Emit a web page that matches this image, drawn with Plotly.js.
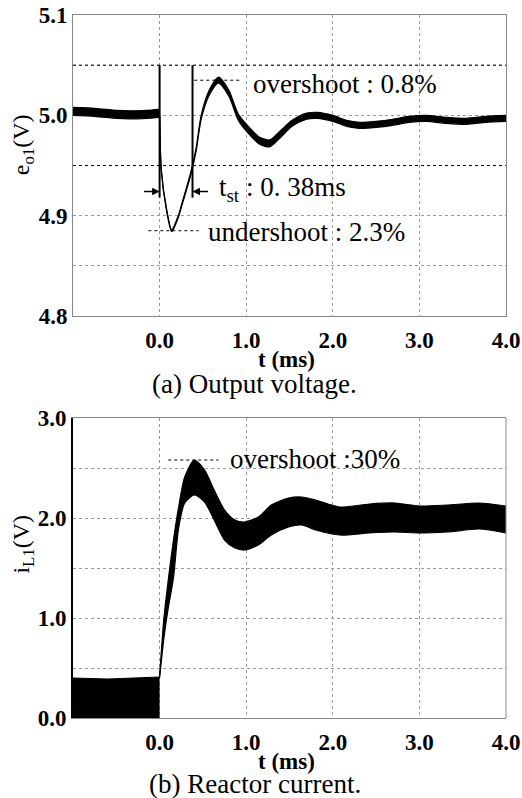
<!DOCTYPE html>
<html><head><meta charset="utf-8">
<script src="https://cdn.plot.ly/plotly-3.0.1.min.js"></script>
<style>html,body{margin:0;padding:0;background:#fff;}#chart{width:522px;height:798px;}</style>
</head><body><div id="chart"></div>
<script>
// ---- (a) output voltage e_o1 : time (ms), band centre (V), ripple p-p (V)
// before the load step
const tVPre      = [-1.0, -0.75, -0.5, -0.35, -0.15, 0.0];
const vCenterPre = [5.004, 5.003, 5.001, 5.0005, 5.001, 5.002];
const vRipplePre = [0.008, 0.008, 0.008, 0.008, 0.008, 0.008];
// after the load step
const tV      = [0.0, 0.02, 0.08, 0.14, 0.22, 0.25, 0.36, 0.42, 0.48, 0.57, 0.68, 0.80, 0.91, 1.03, 1.15, 1.27, 1.38, 1.53, 1.69, 1.82, 2.00, 2.16, 2.31, 2.50, 2.69, 2.88, 3.08, 3.31, 3.54, 3.77, 4.00];
const vCenter = [5.000, 4.945, 4.906, 4.885, 4.900, 4.909, 4.942, 4.965, 4.998, 5.022, 5.035, 5.022, 4.998, 4.985, 4.975, 4.972, 4.980, 4.992, 4.999, 5.000, 4.997, 4.992, 4.990, 4.991, 4.993, 4.996, 4.997, 4.995, 4.994, 4.996, 4.997];
const vRipple = [0.002, 0.002, 0.002, 0.002, 0.002, 0.002, 0.003, 0.003, 0.004, 0.005, 0.006, 0.006, 0.006, 0.007, 0.007, 0.007, 0.007, 0.006, 0.006, 0.006, 0.006, 0.006, 0.006, 0.006, 0.006, 0.006, 0.006, 0.006, 0.006, 0.006, 0.006];

// ---- (b) reactor current i_L1 : time (ms), upper / lower envelope (A)
const tIPre   = [-1.0, -0.6, -0.3, 0.0];
const iMaxPre = [0.40, 0.39, 0.40, 0.41];
const iMinPre = [0.00, 0.00, 0.00, 0.00];
const tI   = [0.0, 0.05, 0.10, 0.16, 0.22, 0.29, 0.40, 0.52, 0.63, 0.75, 0.87, 0.98, 1.14, 1.29, 1.49, 1.64, 1.80, 2.08, 2.42, 2.72, 3.00, 3.32, 3.69, 4.00];
const iMax = [0.42, 1.00, 1.38, 1.78, 2.11, 2.41, 2.58, 2.48, 2.28, 2.08, 1.98, 1.96, 2.01, 2.13, 2.20, 2.21, 2.18, 2.11, 2.14, 2.15, 2.12, 2.13, 2.15, 2.12];
const iMin = [0.40, 0.80, 1.10, 1.40, 1.90, 2.15, 2.23, 2.16, 1.98, 1.78, 1.70, 1.68, 1.73, 1.83, 1.91, 1.93, 1.88, 1.83, 1.85, 1.86, 1.85, 1.86, 1.89, 1.85];

// ---- ticks
const xTickVals = [0, 1, 2, 3, 4];
const xTickText = ['0.0', '1.0', '2.0', '3.0', '4.0'];
const vTickVals = [4.8, 4.85, 4.9, 4.95, 5.0, 5.05, 5.1];
const vTickText = ['4.8', '', '4.9', '', '5.0', '', '5.1'];
const iTickVals = [0, 0.5, 1, 1.5, 2, 2.5, 3];
const iTickText = ['0.0', '', '1.0', '', '2.0', '', '3.0'];

// ---- annotation values
const vBand = [5.05, 4.95];
const settle = [0.0, 0.38];
const vOver = 5.035, vUnder = 4.885, iOver = 2.58;

const SERIF = 'Liberation Serif, Times New Roman, Times, serif';
const lo = (c, r) => c.map((v, k) => v - r[k] / 2);
const hi = (c, r) => c.map((v, k) => v + r[k] / 2);

const lineLin = {color: '#000', width: 1.2};
const lineSp = {color: '#000', width: 1.2, shape: 'spline', smoothing: 0.7};
function band(x, yLo, yHi, ln, xa, ya) {
  return [
    {x: x, y: yLo, mode: 'lines', line: ln, xaxis: xa, yaxis: ya, hoverinfo: 'skip'},
    {x: x, y: yHi, mode: 'lines', line: ln, fill: 'tonexty', fillcolor: '#000', xaxis: xa, yaxis: ya, hoverinfo: 'skip'}
  ];
}
const traces = [].concat(
  band(tVPre, lo(vCenterPre, vRipplePre), hi(vCenterPre, vRipplePre), lineSp, 'x', 'y'),
  band(tV, lo(vCenter, vRipple), hi(vCenter, vRipple), lineSp, 'x', 'y'),
  band(tIPre, iMinPre, iMaxPre, lineLin, 'x2', 'y2'),
  band(tI, iMin, iMax, lineSp, 'x2', 'y2')
);

const tickFont = {family: SERIF, size: 23, weight: 'bold', color: '#000'};
function xAx(anchor) {
  return {anchor: anchor, domain: [0, 1], range: [-1, 4], tickvals: xTickVals, ticktext: xTickText,
    showgrid: true, gridcolor: '#9a9a9a', griddash: 'dot', gridwidth: 1, zeroline: false, ticklabelstandoff: 3,
    showline: true, linecolor: '#888', linewidth: 1, mirror: true, ticks: '', tickfont: tickFont, fixedrange: true};
}
function yAx(anchor, dom, rng, tv, tt) {
  return {anchor: anchor, domain: dom, range: rng, tickvals: tv, ticktext: tt,
    showgrid: true, gridcolor: '#9a9a9a', griddash: 'dot', gridwidth: 1, zeroline: false,
    showline: true, linecolor: '#888', linewidth: 1, mirror: true, ticks: '', tickfont: tickFont, fixedrange: true};
}

const yax2 = yAx('x2', [0, 0.4267], [0, 3], iTickVals, iTickText);
yax2.linecolor = '#000'; yax2.linewidth = 2; yax2.mirror = false;

const shapes = [];
vBand.forEach(b => shapes.push({type: 'line', xref: 'x domain', yref: 'y', x0: 0, x1: 1, y0: b, y1: b, line: {color: '#000', width: 1, dash: 'dot'}}));
settle.forEach(s => shapes.push({type: 'line', xref: 'x', yref: 'y', x0: s, x1: s, y0: vBand[0], y1: 4.918, line: {color: '#000', width: 2}}));
shapes.push({type: 'line', xref: 'x', yref: 'y', x0: 0.40, x1: 0.95, y0: vOver, y1: vOver, line: {color: '#000', width: 1, dash: 'dot'}});
shapes.push({type: 'line', xref: 'x', yref: 'y', x0: -0.13, x1: 0.45, y0: vUnder, y1: vUnder, line: {color: '#000', width: 1, dash: 'dot'}});
shapes.push({type: 'line', xref: 'x2', yref: 'y2', x0: 0.10, x1: 0.68, y0: iOver, y1: iOver, line: {color: '#000', width: 1, dash: 'dot'}});
shapes.push({type: 'line', xref: 'x2 domain', yref: 'y2 domain', x0: 1, x1: 1, y0: 0, y1: 1, line: {color: '#888', width: 1}});

const annFont = {family: SERIF, size: 27, color: '#000'};
const axFont = {family: SERIF, size: 23, weight: 'bold', color: '#000'};
const capFont = {family: SERIF, size: 27, color: '#000'};
const annotations = [
  {xref: 'x', yref: 'y', x: 1.06, y: 5.031, text: 'overshoot : 0.8%', showarrow: false, xanchor: 'left', yanchor: 'middle', font: annFont},
  {xref: 'x', yref: 'y', x: 0.53, y: 4.8837, text: 'undershoot : 2.3%', showarrow: false, xanchor: 'left', yanchor: 'middle', font: annFont},
  {xref: 'x', yref: 'y', x: 0.66, y: 4.927, text: 't<sub>st</sub> : 0. 38ms', showarrow: false, xanchor: 'left', yanchor: 'middle', font: annFont},
  {xref: 'x', yref: 'y', x: settle[0], y: 4.924, ax: -17, ay: 0, text: '', showarrow: true, arrowhead: 2, arrowsize: 1, arrowwidth: 1.5, arrowcolor: '#000'},
  {xref: 'x', yref: 'y', x: settle[1], y: 4.924, ax: 17, ay: 0, text: '', showarrow: true, arrowhead: 2, arrowsize: 1, arrowwidth: 1.5, arrowcolor: '#000'},
  {xref: 'x2', yref: 'y2', x: 0.79, y: 2.59, text: 'overshoot :30%', showarrow: false, xanchor: 'left', yanchor: 'middle', font: annFont},
  {xref: 'paper', yref: 'paper', x: 0.494, y: 0.5105, text: 't (ms)', showarrow: false, xanchor: 'center', yanchor: 'middle', font: axFont},
  {xref: 'paper', yref: 'paper', x: 0.494, y: -0.0615, text: 't (ms)', showarrow: false, xanchor: 'center', yanchor: 'middle', font: axFont},
  {xref: 'paper', yref: 'paper', x: 0.42, y: 0.4755, text: '(a) Output voltage.', showarrow: false, xanchor: 'center', yanchor: 'middle', font: capFont},
  {xref: 'paper', yref: 'paper', x: 0.42, y: -0.0935, text: '(b) Reactor current.', showarrow: false, xanchor: 'center', yanchor: 'middle', font: capFont},
  {xref: 'paper', yref: 'paper', x: -0.115, y: 0.815, text: 'e<sub>o1</sub>(V)', textangle: -90, showarrow: false, xanchor: 'center', yanchor: 'middle', font: {family: SERIF, size: 24, color: '#000'}},
  {xref: 'paper', yref: 'paper', x: -0.115, y: 0.247, text: 'i<sub>L1</sub>(V)', textangle: -90, showarrow: false, xanchor: 'center', yanchor: 'middle', font: {family: SERIF, size: 24, color: '#000'}}
];

const layout = {
  width: 522, height: 798,
  margin: {l: 73, r: 16, t: 15, b: 80},
  paper_bgcolor: '#fff', plot_bgcolor: '#fff',
  showlegend: false,
  xaxis: xAx('y'),
  yaxis: yAx('x', [0.5718, 1], [4.8, 5.1], vTickVals, vTickText),
  xaxis2: xAx('y2'),
  yaxis2: yax2,
  shapes: shapes,
  annotations: annotations
};
Plotly.newPlot('chart', traces, layout, {displayModeBar: false, staticPlot: true});
</script>
</body></html>
